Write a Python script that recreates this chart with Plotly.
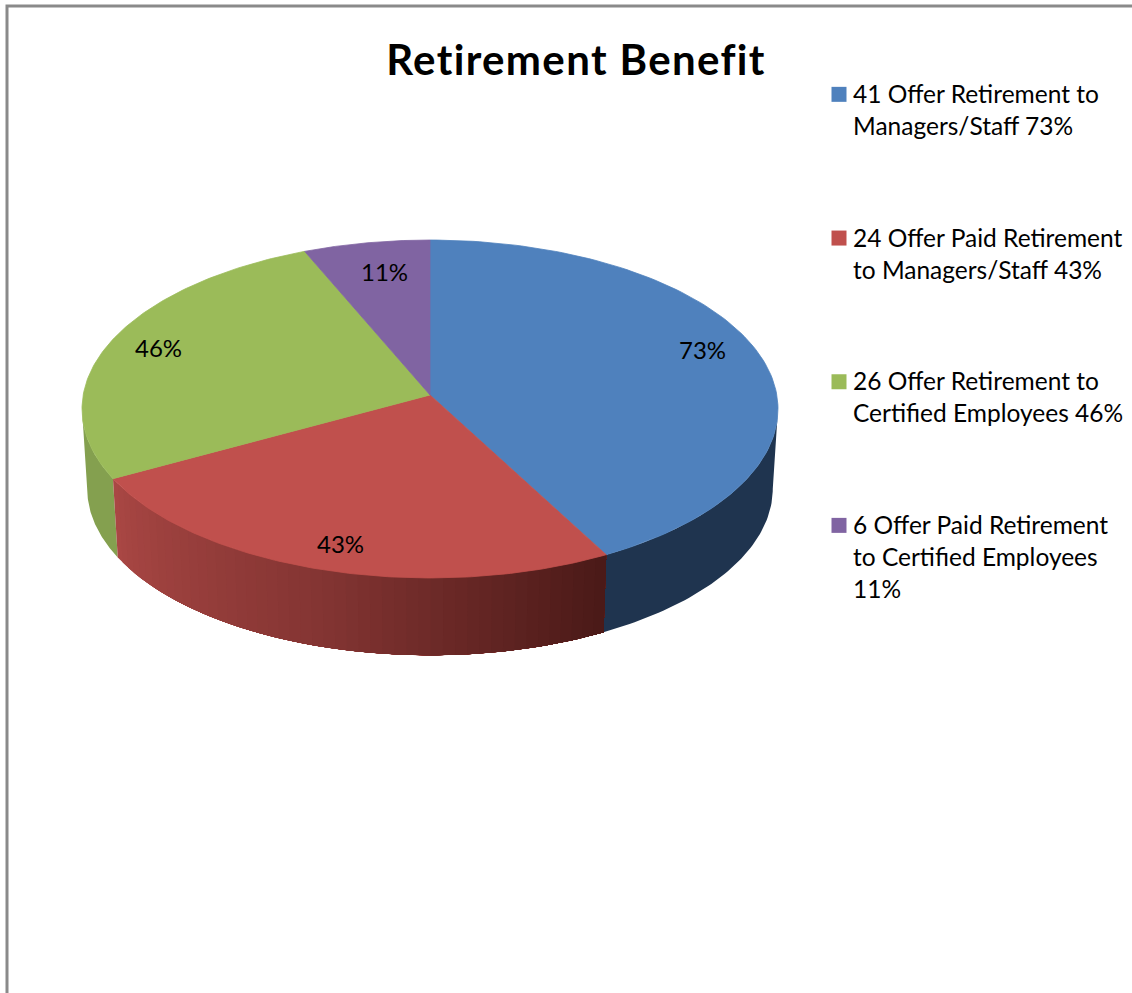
import math
import numpy as np
import plotly.graph_objects as go

# ---- data ----
labels = [
    "41 Offer Retirement to<br>Managers/Staff 73%",
    "24 Offer Paid Retirement<br>to Managers/Staff 43%",
    "26 Offer Retirement to<br>Certified Employees 46%",
    "6 Offer Paid Retirement<br>to Certified Employees<br>11%",
]
values = [73, 43, 46, 11]
percent_text = ["73%", "43%", "46%", "11%"]
title_text = "Retirement Benefit"
top_colors = ["#4F81BD", "#C0504D", "#9BBB59", "#8064A2"]

# ---- projection of the tilted disc ----
CX, CY = 430.0, 395.0
A, B, K = 346.8, 167.8, 0.0828
LOW_CY, LOW_F = 475.0, 0.985


def project(theta, f=1.0, cy=CY):
    x, z = np.sin(theta), -np.cos(theta)
    s = 1.0 / (1.0 - K * z)
    return CX + f * A * x * s, cy + f * B * z * s


def rim(t0, t1, n=120, f=1.0, cy=CY):
    th = np.linspace(t0, t1, n)
    return project(th, f, cy)


total = sum(values)
edges = [0.0]
for v in values:
    edges.append(edges[-1] + v / total * 2 * math.pi)

fig = go.Figure()


def poly(xs, ys, color, lw=0.8):
    fig.add_trace(go.Scatter(x=list(xs), y=list(ys), mode="lines", fill="toself",
                             fillcolor=color, line=dict(color=color, width=lw),
                             hoverinfo="skip", showlegend=False))


def wall(t0, t1, color):
    x1, y1 = rim(t0, t1, 60)
    x2, y2 = rim(t1, t0, 60, LOW_F, LOW_CY)
    poly(np.r_[x1, x2], np.r_[y1, y2], color, 0)


# side walls: visible from the widest point of the disc round the near side
RIGHT_LIMIT = math.pi - math.acos(K)
LEFT_LIMIT = math.pi + math.acos(K)
wall(RIGHT_LIMIT, edges[1], "#1F344F")
wall(edges[2], LEFT_LIMIT, "#84A04F")

# the red wall darkens from left to right; each strip paints over the rest of the wall
c_left = np.array([0xA9, 0x47, 0x44])
c_mid = np.array([0x84, 0x35, 0x33])
c_right = np.array([0x4B, 0x1A, 0x18])
STRIPS = 48
red_edges = np.linspace(edges[2], edges[1], STRIPS + 1)
for i in range(STRIPS):
    u = i / (STRIPS - 1)
    c = c_left + (c_mid - c_left) * u / 0.5 if u < 0.5 else c_mid + (c_right - c_mid) * (u - 0.5) / 0.5
    wall(red_edges[i], edges[1], "rgb(%d,%d,%d)" % tuple(c))

# top faces
for i in range(len(values)):
    xs, ys = rim(edges[i], edges[i + 1])
    poly(np.r_[CX, xs, CX], np.r_[CY, ys, CY], top_colors[i])

# legend entries
for name, color in zip(labels, top_colors):
    fig.add_trace(go.Scatter(x=[None], y=[None], mode="markers", name=name,
                             legendgroup=name,
                             marker=dict(symbol="square", size=15, color=color)))

# percent labels
label_pos = [(702, 349), (340, 543), (158, 347), (384, 271)]
annotations = [
    dict(x=p[0], y=p[1], xref="x", yref="y", text=t, showarrow=False,
         font=dict(family="Lato", size=24, color="#000000"))
    for t, p in zip(percent_text, label_pos)
]

fig.update_layout(
    width=1132, height=993, autosize=False,
    margin=dict(l=0, r=0, t=0, b=0),
    paper_bgcolor="#FFFFFF", plot_bgcolor="#FFFFFF",
    xaxis=dict(visible=False, range=[0, 1132], fixedrange=True),
    yaxis=dict(visible=False, range=[993, 0], fixedrange=True),
    title=dict(text="<b>%s</b>" % title_text, x=576 / 1132, xanchor="center",
               y=1 - 60 / 993, yanchor="middle",
               font=dict(family="Lato", size=42, color="#000000")),
    legend=dict(x=813 / 1132, xanchor="left", y=1 - 71 / 993, yanchor="top",
                tracegroupgap=77, font=dict(family="Lato", size=24.5, color="#000000"),
                bgcolor="rgba(0,0,0,0)", itemclick=False, itemdoubleclick=False),
    annotations=annotations,
    shapes=[dict(type="path", path="M 7 993 L 7 6 L 1132 6", xref="x", yref="y",
                 line=dict(color="#8A8A8A", width=3))],
)

post = """
document.body.style.margin='0';
document.body.style.overflow='hidden';
var st=document.createElement('style');
st.textContent='.main-svg text{font-variant-ligatures:none;} .gtitle{letter-spacing:1.35px;}';
document.head.appendChild(st);
document.querySelectorAll('.legend .traces').forEach(function(tr){
  var n=tr.querySelectorAll('.legendtext tspan.line').length||1;
  var g=tr.querySelector('.legendsymbols');
  if(g){g.setAttribute('transform','translate(6,'+(1-(n-1)*32/2)+')');}
});
"""
fig.write_html("out.html", post_script=post, config={"displayModeBar": False})
